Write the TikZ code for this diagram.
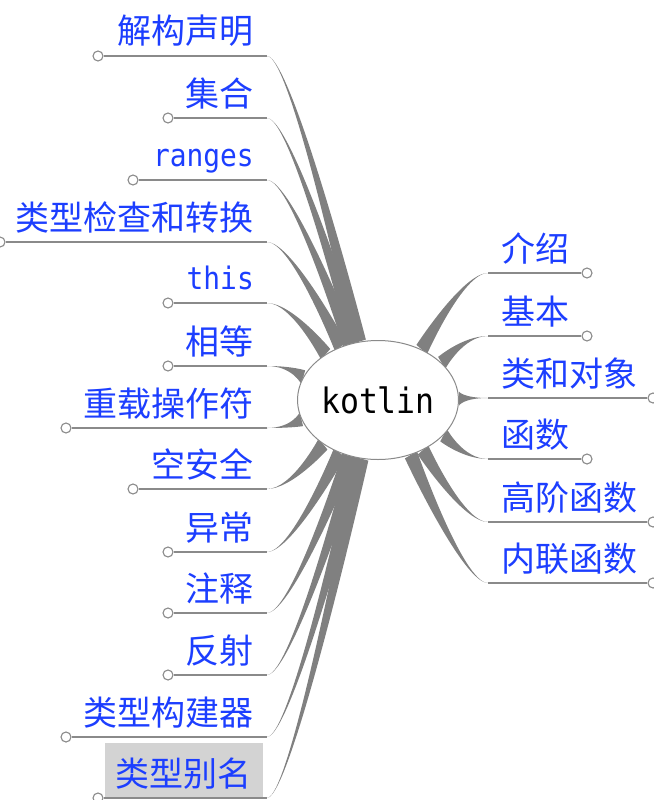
\documentclass[tikz,border=0pt]{standalone}
\usepackage{fontspec}
\setmainfont{Noto Sans CJK SC}
\newfontfamily\monof[FakeStretch=0.9]{DejaVu Sans Mono}
\usetikzlibrary{calc,shapes.geometric}
\pgfdeclarelayer{background}
\pgfsetlayers{background,main}
\definecolor{lblue}{RGB}{28,62,255}
\definecolor{egray}{RGB}{128,128,128}
\definecolor{lgray}{RGB}{138,138,138}
\definecolor{hlgray}{RGB}{211,211,211}
% tapered edge from the root border to the child point #1; #2 = horizontal control offset
\newcommand\mmedge[2]{%
  \path (root) -- coordinate[pos=0] (#1s) (#1);
  \fill[edgefill] (#1) .. controls ($(#1)+(#2,0)$) and ($(#1s)!7pt!90:(#1)$) .. ($(#1s)!7pt!90:(#1)$)
    -- ($(#1s)!7pt!-90:(#1)$) .. controls ($(#1s)!7pt!-90:(#1)$) and ($(#1)+(#2,0)$) .. (#1) -- cycle;}
\begin{document}
\begin{tikzpicture}[x=1pt,y=-1pt,
  lbl/.style={text=lblue, inner sep=0pt, font=\fontsize{34}{34}\selectfont},
  lblm/.style={text=lblue, inner sep=0pt, font=\monof\fontsize{31}{31}\selectfont},
  knob/.style={circle, draw=lgray, fill=white, line width=1.1pt, minimum size=10pt, inner sep=0pt},
  stem/.style={draw=lgray, line width=1.4pt},
  edgefill/.style={fill=egray},
  rootnode/.style={ellipse, draw=lgray, line width=1pt, fill=white, minimum width=147pt,
    minimum height=119pt, inner sep=0pt, font=\monof\fontsize{35}{35}\selectfont},
  hl/.style={fill=hlgray, inner xsep=11pt, inner ysep=0pt, text height=43pt, text depth=11pt}]
\useasboundingbox (0,0) rectangle (653,800);

\node[rootnode] (root) at (378,400) {kotlin};

% left branch
\coordinate (L1) at (267,56);   \node[knob] (L1k) at (98,56) {};
\node[lbl, anchor=base east] (L1t) at (254,44) {解构声明};
\coordinate (L2) at (267,118);  \node[knob] (L2k) at (168,118) {};
\node[lbl, anchor=base east] (L2t) at (254,106) {集合};
\coordinate (L3) at (267,180);  \node[knob] (L3k) at (133,180) {};
\node[lblm, anchor=base east] (L3t) at (254,166) {ranges};
\coordinate (L4) at (267,242);  \node[knob] (L4k) at (0,242) {};
\node[lbl, anchor=base east] (L4t) at (254,230) {类型检查和转换};
\coordinate (L5) at (267,303);  \node[knob] (L5k) at (168,303) {};
\node[lblm, anchor=base east] (L5t) at (254,289) {this};
\coordinate (L6) at (267,366);  \node[knob] (L6k) at (168,366) {};
\node[lbl, anchor=base east] (L6t) at (254,354) {相等};
\coordinate (L7) at (267,428);  \node[knob] (L7k) at (66,428) {};
\node[lbl, anchor=base east] (L7t) at (254,416) {重载操作符};
\coordinate (L8) at (267,489);  \node[knob] (L8k) at (133,489) {};
\node[lbl, anchor=base east] (L8t) at (254,477) {空安全};
\coordinate (L9) at (267,552);  \node[knob] (L9k) at (168,552) {};
\node[lbl, anchor=base east] (L9t) at (254,540) {异常};
\coordinate (L10) at (267,613); \node[knob] (L10k) at (168,613) {};
\node[lbl, anchor=base east] (L10t) at (254,601) {注释};
\coordinate (L11) at (267,675); \node[knob] (L11k) at (168,675) {};
\node[lbl, anchor=base east] (L11t) at (254,663) {反射};
\coordinate (L12) at (267,737); \node[knob] (L12k) at (66,737) {};
\node[lbl, anchor=base east] (L12t) at (254,725) {类型构建器};
\coordinate (L13) at (267,798); \node[knob] (L13k) at (98,798) {};
\node[lbl, hl, anchor=base east] (L13t) at (263,786) {类型别名};

% right branch
\coordinate (R1) at (488,273); \node[knob] (R1k) at (587,273) {};
\node[lbl, anchor=base west] (R1t) at (501,261) {介绍};
\coordinate (R2) at (488,336); \node[knob] (R2k) at (587,336) {};
\node[lbl, anchor=base west] (R2t) at (501,324) {基本};
\coordinate (R3) at (488,398); \node[knob] (R3k) at (653,398) {};
\node[lbl, anchor=base west] (R3t) at (501,386) {类和对象};
\coordinate (R4) at (488,459); \node[knob] (R4k) at (587,459) {};
\node[lbl, anchor=base west] (R4t) at (501,447) {函数};
\coordinate (R5) at (488,522); \node[knob] (R5k) at (653,522) {};
\node[lbl, anchor=base west] (R5t) at (501,510) {高阶函数};
\coordinate (R6) at (488,583); \node[knob] (R6k) at (653,583) {};
\node[lbl, anchor=base west] (R6t) at (501,571) {内联函数};

\begin{pgfonlayer}{background}
\foreach \n in {L1,L2,L3,L4,L5,L6,L7,L8,L9,L10,L11,L12,L13}{
  \draw[stem] (\n k) -- (\n);
  \mmedge{\n}{25}
}
\foreach \n in {R1,R2,R3,R4,R5,R6}{
  \draw[stem] (\n k) -- (\n);
  \mmedge{\n}{-25}
}
\end{pgfonlayer}
\end{tikzpicture}
\end{document}
